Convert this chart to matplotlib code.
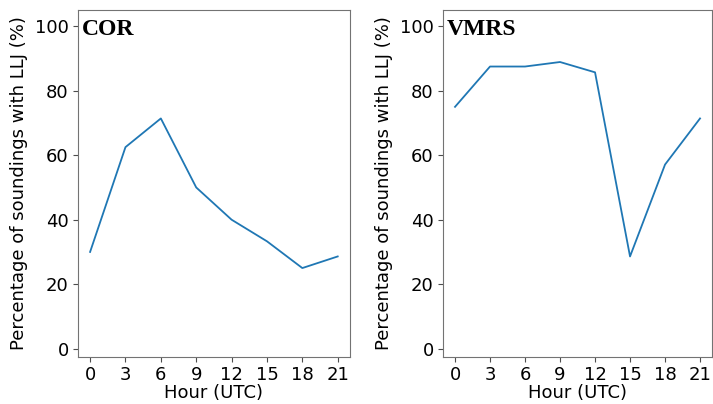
import matplotlib
matplotlib.use("Agg")
import matplotlib.pyplot as plt

# Hours of the soundings and LLJ occurrence (%)
hours = [0, 3, 6, 9, 12, 15, 18, 21]
cor = [30.0, 62.5, 71.4, 50.0, 40.0, 33.3, 25.0, 28.6]
vmrs = [75.0, 87.5, 87.5, 88.9, 85.7, 28.6, 57.1, 71.4]

fig = plt.figure(figsize=(7.13, 4.04), dpi=100)
ax1 = fig.add_axes([0.109, 0.117, 0.382, 0.858])
ax2 = fig.add_axes([0.621, 0.117, 0.378, 0.858])

for ax, vals, name in [(ax1, cor, 'COR'), (ax2, vmrs, 'VMRS')]:
    ax.plot(hours, vals, color='#1f77b4', lw=1.3)
    ax.set_ylim(-2.5, 105)
    ax.set_xticks(hours)
    ax.set_yticks([0, 20, 40, 60, 80, 100])
    ax.tick_params(labelsize=13, color='0.3', pad=3)
    ax.set_xlabel('Hour (UTC)', fontsize=13, labelpad=0)
    ax.set_ylabel('Percentage of soundings with LLJ (%)', fontsize=13, labelpad=5)
    for s in ax.spines.values():
        s.set_color('0.45')
    ax.text(0.015, 0.975, name, transform=ax.transAxes, ha='left', va='top',
            fontsize=17, fontweight='bold', family='Liberation Serif')

fig.savefig('out.png', dpi=100)
